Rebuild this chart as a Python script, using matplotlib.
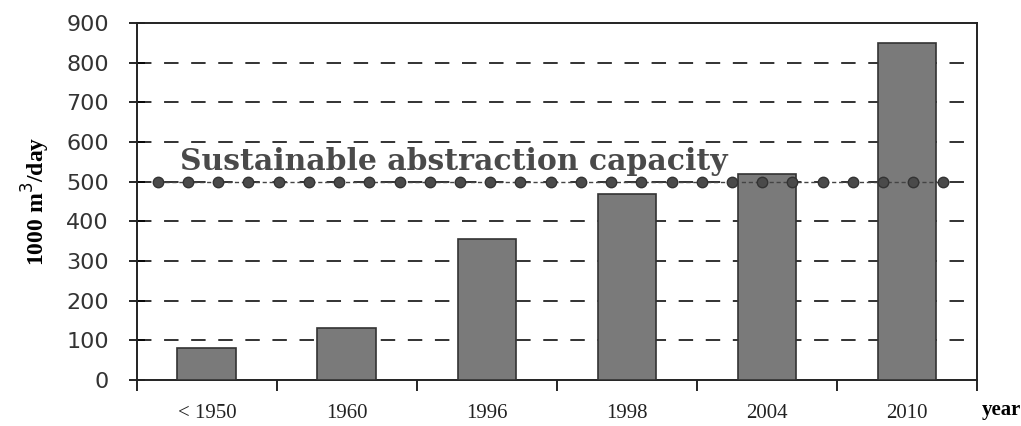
import numpy as np
import matplotlib.pyplot as plt

# abstraction per period (1000 m3/day)
periods = ["< 1950", "1960", "1996", "1998", "2004", "2010"]
abstraction = [80, 130, 355, 470, 520, 850]
sustainable = 500
sustainable_label = "Sustainable abstraction capacity"

fig = plt.figure(figsize=(10.21, 4.26), dpi=100)
ax = fig.add_axes([0.134, 0.108, 0.823, 0.838])

x = np.arange(len(periods))
ax.bar(x, abstraction, width=0.42, color="#7a7a7a", edgecolor="#333333", lw=1.2, zorder=3)

# dashed grid
for v in range(100, 900, 100):
    ax.axhline(v, color="#222222", lw=1.3, dashes=(8, 7), zorder=1)

# sustainable line with dots
dot_x = np.linspace(-0.35, 5.26, 27)
ax.plot(dot_x, [sustainable] * len(dot_x), color="#444444", lw=1.0, ls=(0, (3, 2)),
        marker="o", ms=7.5, mfc="#4a4a4a", mec="#333333", zorder=4)
ax.text(-0.19, 550, sustainable_label, family="DejaVu Serif", fontweight="bold",
        fontsize=21.5, color="#4a4a4a", va="center", ha="left", zorder=5)

ax.set_xlim(-0.5, 5.5)
ax.set_ylim(0, 900)
ax.set_yticks(range(0, 1000, 100))
ax.tick_params(axis="y", labelsize=16, direction="inout", length=12, width=1.2,
               labelcolor="#333333", pad=14)
ax.set_xticks(np.arange(-0.5, 6, 1))
ax.set_xticklabels([])
ax.set_xticks(x, minor=True)
ax.set_xticklabels(periods, minor=True, family="Liberation Serif", fontsize=15, color="#222222")
ax.tick_params(axis="x", which="minor", length=0, pad=17)
ax.tick_params(axis="x", which="major", direction="out", length=8, width=1.2)

for s in ax.spines.values():
    s.set_linewidth(1.4)
    s.set_color("#222222")

ax.set_ylabel("1000 m$^3$/day", family="Liberation Serif", fontweight="bold",
              fontsize=17, labelpad=10)
ax.text(1.005, -0.085, "year", transform=ax.transAxes, family="Liberation Serif",
        fontweight="bold", fontsize=15, va="center", ha="left")

fig.savefig("out.png", dpi=100)
